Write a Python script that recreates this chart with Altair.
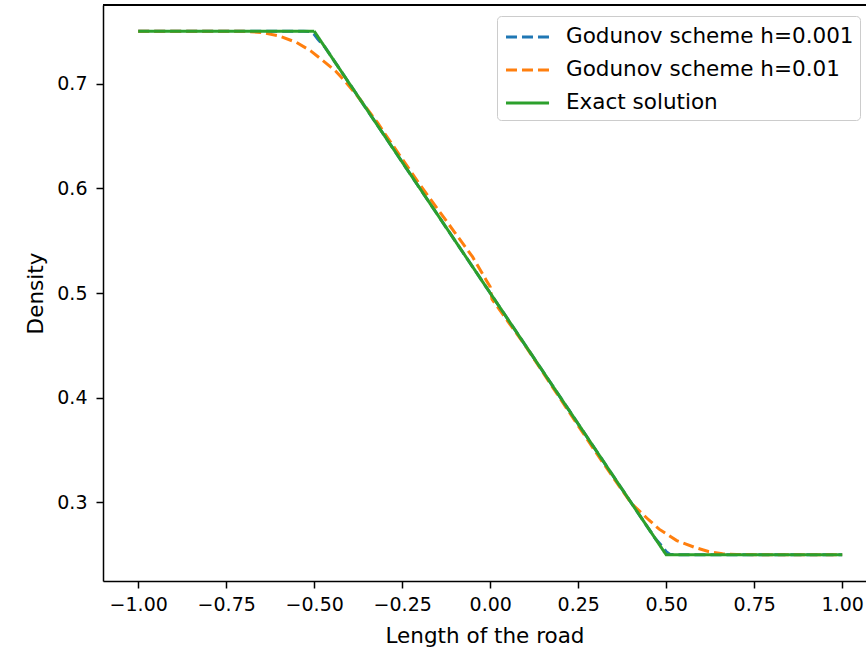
import altair as alt
import pandas as pd

# Series names
series_names = ["Godunov scheme h=0.001", "Godunov scheme h=0.01", "Exact solution"]
series_colors = ["#1f77b4", "#ff7f0e", "#2ca02c"]

# Godunov scheme h=0.001
x_fine = [-1.0, -0.53, -0.51, -0.5, -0.49, -0.47, 0.0, 0.47, 0.49, 0.5, 0.51, 0.53, 1.0]
y_fine = [0.75, 0.75, 0.7495, 0.747, 0.7425, 0.735, 0.5, 0.265, 0.2575, 0.253, 0.2505, 0.25, 0.25]

# Godunov scheme h=0.01
x_coarse = [-1.0, -0.8, -0.7, -0.65, -0.6, -0.55, -0.51, -0.47, -0.44, -0.41, -0.38, -0.35,
            -0.32, -0.3, -0.2, -0.1, -0.05, -0.01, 0.0, 0.005, 0.05, 0.1, 0.2, 0.3, 0.35,
            0.4, 0.45, 0.48, 0.53, 0.58, 0.62, 0.66, 0.7, 0.8, 1.0]
y_coarse = [0.75, 0.75, 0.7499, 0.7488, 0.7455, 0.7392, 0.7312, 0.7205, 0.7122, 0.7012, 0.6893, 0.6761,
            0.6626, 0.6525, 0.6035, 0.5575, 0.5345, 0.5115, 0.506, 0.494, 0.473, 0.4495, 0.3985, 0.348, 0.3235,
            0.2995, 0.2835, 0.2745, 0.2636, 0.2572, 0.2532, 0.2510, 0.2503, 0.25, 0.25]

# Exact solution
x_exact = [-1.0, -0.5, 0.5, 1.0]
y_exact = [0.75, 0.75, 0.25, 0.25]

x_ticks = [-1.0, -0.75, -0.5, -0.25, 0.0, 0.25, 0.5, 0.75, 1.0]
y_ticks = [0.3, 0.4, 0.5, 0.6, 0.7]

frames = []
for name, xs, ys in zip(series_names, [x_fine, x_coarse, x_exact], [y_fine, y_coarse, y_exact]):
    frames.append(pd.DataFrame({"x": xs, "y": ys, "series": name}))
df = pd.concat(frames, ignore_index=True)

W, H = 763, 576
FONT = "DejaVu Sans"
TICK_FS = 19
TITLE_FS = 21.5

x_enc = alt.X("x:Q", scale=alt.Scale(domain=[-1.1, -1.1 + W / 352.0], nice=False, zero=False),
              axis=alt.Axis(values=x_ticks, format=".2f", title="Length of the road", grid=False,
                            tickSize=7, tickWidth=1.5, domainWidth=1.5, domainColor="black",
                            tickColor="black", labelColor="black", titleColor="black",
                            labelFontSize=TICK_FS, titleFontSize=TITLE_FS, labelPadding=7,
                            titlePadding=11, titleFontWeight="normal", labelFont=FONT,
                            titleFont=FONT, labelFlush=False))
y_enc = alt.Y("y:Q", scale=alt.Scale(domain=[0.225, 0.775], nice=False, zero=False),
              axis=alt.Axis(values=y_ticks, format=".1f", title="Density", grid=False,
                            tickSize=7, tickWidth=1.5, domainWidth=1.5, domainColor="black",
                            tickColor="black", labelColor="black", titleColor="black",
                            labelFontSize=TICK_FS, titleFontSize=TITLE_FS, labelPadding=9,
                            titlePadding=9, titleFontWeight="normal", labelFont=FONT,
                            titleFont=FONT))
color_enc = alt.Color("series:N", scale=alt.Scale(domain=series_names, range=series_colors),
                      legend=alt.Legend(title=None, orient="none", legendX=394, legendY=11,
                                        symbolType="M-0.89,0H2.3", symbolSize=729,
                                        symbolStrokeWidth=3, labelFontSize=TITLE_FS,
                                        labelFont=FONT, labelColor="black", labelOffset=33,
                                        rowPadding=7, padding=6, strokeColor="#cccccc",
                                        fillColor="white", cornerRadius=4, labelLimit=400))
dash_enc = alt.StrokeDash("series:N", scale=alt.Scale(domain=series_names,
                                                      range=[[11, 5], [11, 5], [1, 0]]),
                          legend=None)

layers = []
for name in series_names:
    layers.append(
        alt.Chart(df).transform_filter(alt.datum.series == name)
        .mark_line(strokeWidth=3, clip=True)
        .encode(x=x_enc, y=y_enc, color=color_enc, strokeDash=dash_enc)
    )

top_border = alt.Chart(df).mark_rule(color="black", strokeWidth=1.5).encode(
    x=alt.value(0), x2=alt.value(W), y=alt.value(0))

chart = alt.layer(*layers, top_border).properties(
    width=W, height=H,
    autosize=alt.AutoSizeParams(type="none"),
    padding={"left": 103, "top": 5, "right": 0, "bottom": 70},
).configure_view(stroke=None).configure(background="white")

chart.save("out.html", embed_options={"renderer": "svg", "actions": False})
